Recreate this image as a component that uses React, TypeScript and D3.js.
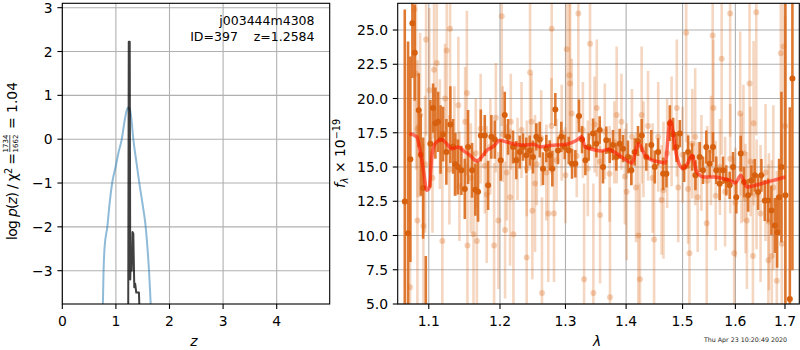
import * as d3 from 'd3';

// p(z) panel
const pzZ = [0.755, 0.77, 0.79, 0.84, 0.88, 0.93, 1.0, 1.05, 1.11, 1.16, 1.2, 1.23, 1.26, 1.29, 1.325, 1.38, 1.437, 1.5, 1.556, 1.59, 1.618, 1.635, 1.655];
const pzLog = [-3.9, -3.0, -2.45, -2.0, -1.5, -1.0, -0.6, -0.3, 0.0, 0.4, 0.65, 0.72, 0.68, 0.45, 0.0, -0.5, -1.0, -1.5, -2.0, -2.5, -3.0, -3.4, -3.9];
const fitZ = [1.23, 1.24, 1.258, 1.268, 1.28, 1.295, 1.31, 1.325, 1.343, 1.36, 1.38, 1.43, 1.44];
const fitLog = [-3.9, 2.22, 2.22, -3.2, -2.55, -3.0, -2.12, -2.15, -3.38, -3.3, -3.5, -3.5, -3.9];
const zTicks = [0, 1, 2, 3, 4];
const pTicks = [-3, -2, -1, 0, 1, 2, 3];

// spectrum panel
const darkWave = [1.0682, 1.0725, 1.0755, 1.0782, 1.0813, 1.0866, 1.0893, 1.0924, 1.096, 1.1021, 1.1058, 1.1089, 1.1126, 1.116, 1.1194, 1.1239, 1.1294, 1.1332, 1.1363, 1.14, 1.1447, 1.1495, 1.1541, 1.1598, 1.1644, 1.1683, 1.1722, 1.1779, 1.1827, 1.1874, 1.1924,
  1.2011, 1.207, 1.2119, 1.2193, 1.2242, 1.2293, 1.2343, 1.2392, 1.2444, 1.2494, 1.2545, 1.2597, 1.2648, 1.2699, 1.2752, 1.2793, 1.284, 1.2882, 1.2934, 1.2988, 1.3052, 1.3105, 1.3158, 1.3217, 1.3266, 1.332, 1.3375, 1.3446, 1.35,
  1.3555, 1.361, 1.3665, 1.3722, 1.3777, 1.3833, 1.389, 1.3947, 1.4032, 1.4089, 1.4148, 1.4205, 1.427, 1.435, 1.4438, 1.4499, 1.4558, 1.4648, 1.4707, 1.4769, 1.4828, 1.4888, 1.495, 1.5029, 1.5102, 1.5176, 1.5238,
  1.5317, 1.5379, 1.5441, 1.5505, 1.5568, 1.5631, 1.5696, 1.576, 1.5823, 1.5889, 1.5954, 1.6018, 1.6105, 1.617, 1.6251, 1.6316, 1.6384, 1.645, 1.6517, 1.6585, 1.6653, 1.672, 1.679, 1.6837, 1.6878, 1.6926, 1.7009, 1.7101, 1.7155];
const darkFlux = [12.49, 10.17, 15.56, 25.5, 23.34, 19.15, 15.9, 13.46, 4.6, 16.7, 19.3, 18.2, 18.3, 17.0, 17.4, 16.1, 18.1, 16.5, 15.2, 15.0, 14.76, 13.4, 16.46, 14.76, 13.34, 13.2, 17.3, 17.3, 13.66, 17.2, 17.0,
  15.5, 18.8, 17.2, 16.46, 15.5, 16.1, 16.46, 15.85, 16.2, 15.73, 17.2, 17.0, 14.88, 16.34, 15.85, 14.88, 19.2, 16.2, 17.2, 16.46, 16.2, 15.24, 15.24, 18.73, 17.0, 15.5, 16.46, 17.44, 16.7,
  17.7, 15.0, 16.95, 16.2, 16.6, 15.73, 16.7, 16.34, 15.73, 14.76, 16.1, 16.9, 17.3, 15.73, 16.6, 15.0, 16.1, 14.5, 14.5, 18.2, 17.4, 16.46, 17.44, 15.0, 16.1, 15.73, 14.4,
  15.73, 14.76, 16.46, 15.24, 16.46, 14.76, 13.78, 14.76, 14.02, 13.66, 15.0, 12.8, 15.98, 13.9, 12.93, 14.02, 14.39, 13.17, 14.39, 12.56, 12.56, 11.83, 10.73, 10.24, 12.8, 15.0, 12.93, 5.37, 21.46];
const darkErr = [14, 14, 7.5, 4, 3.5, 2.7, 3.0, 3.7, 3.9, 3.2, 1.8, 2.6, 2.2, 2.5, 2.0, 2.4, 2.8, 2.0, 2.3, 2.0, 1.8, 2.2, 2.7, 2.0, 1.9, 2.2, 1.9, 1.5, 1.8, 1.6, 1.4,
  1.5, 1.7, 1.3, 1.2, 1.4, 1.2, 1.0, 1.3, 1.1, 1.2, 1.0, 1.3, 1.2, 1.0, 1.1, 1.3, 1.2, 1.0, 1.1, 0.9, 1.0, 1.1, 1.0, 1.2, 1.0, 1.1, 1.0, 1.1, 1.0,
  1.0, 1.2, 1.0, 0.9, 1.1, 1.0, 1.1, 1.0, 1.2, 1.1, 1.0, 1.1, 1.2, 1.0, 1.1, 1.2, 1.0, 1.2, 1.0, 1.3, 1.2, 1.1, 1.0, 1.1, 1.2, 1.0, 1.1,
  1.1, 1.0, 1.2, 1.0, 1.1, 1.0, 1.2, 1.0, 1.1, 1.0, 1.1, 1.2, 1.3, 1.1, 1.2, 1.1, 1.2, 1.3, 1.2, 1.5, 1.6, 1.8, 2.0, 2.6, 2.8, 5.5, 14, 14, 14];

const lightWave = [1.0751, 1.0808, 1.0831, 1.0848, 1.085, 1.0884, 1.0928, 1.095, 1.0964, 1.1008, 1.105, 1.1071, 1.1108, 1.115, 1.1184, 1.122, 1.1244, 1.128, 1.129, 1.135, 1.1405, 1.142, 1.15, 1.1524, 1.1532, 1.158, 1.1618, 1.165, 1.1666, 1.172, 1.178, 1.1807, 1.186, 1.1914, 1.194, 1.1977,
  1.2026, 1.204, 1.2075, 1.21, 1.2149, 1.216, 1.2199, 1.226, 1.232, 1.2398, 1.24, 1.2449, 1.247, 1.2484, 1.2525, 1.255, 1.262, 1.2632, 1.27, 1.273, 1.278, 1.2783, 1.2819, 1.286, 1.294, 1.3, 1.302, 1.3062, 1.3073, 1.31, 1.318, 1.3206, 1.328, 1.3299, 1.336, 1.3396,
  1.3451, 1.347, 1.3507, 1.356, 1.3561, 1.364, 1.372, 1.3727, 1.38, 1.384, 1.392, 1.398, 1.4009, 1.41, 1.417, 1.421, 1.4239, 1.4268, 1.43, 1.438, 1.446, 1.4487, 1.456, 1.462, 1.4654, 1.472, 1.48, 1.4895, 1.492,
  1.5, 1.5066, 1.51, 1.5127, 1.518, 1.5233, 1.528, 1.535, 1.5449, 1.546, 1.553, 1.5562, 1.5575, 1.562, 1.57, 1.5734, 1.58, 1.5898, 1.59, 1.5976, 1.6, 1.6094, 1.612, 1.6159, 1.62, 1.6227, 1.628, 1.63, 1.6347, 1.636, 1.6414, 1.642, 1.65, 1.66, 1.6659, 1.667, 1.6728, 1.676, 1.6831, 1.6913, 1.6934, 1.6967, 1.7003];
const lightFlux = [6.22, 26.5, 21.8, 11.1, 17.8, 18.8, 10.7, 15.2, 24.3, 20.6, 14.2, 22.1, 22.6, 17.4, 9.6, 20.0, 23.5, 14.8, 25.1, 16.9, 19.5, 13.6, 18.3, 20.4, 9.27, 14.2, 10.1, 16.0, 9.6, 17.8, 15.1, 13.0, 16.5, 9.27, 18.6, 11.1,
  26.0, 17.4, 10.4, 14.6, 12.8, 18.3, 10.1, 15.6, 17.7, 8.4, 14.9, 21.9, 18.3, 11.8, 13.8, 15.2, 17.1, 5.8, 14.6, 11.6, 18.0, 25.1, 11.6, 15.5, 17.5, 14.4, 23.6, 21.7, 21.1, 18.9, 15.8, 26.2, 17.7, 6.8, 14.9, 24.0,
  5.8, 18.1, 19.3, 15.4, 11.5, 17.6, 14.5, 5.5, 16.8, 18.8, 18.3, 14.3, 13.2, 17.2, 13.5, 10.0, 6.8, 18.8, 16.3, 18.0, 14.2, 9.7, 17.2, 12.6, 13.3, 16.0, 17.6, 19.3, 13.5,
  15.9, 24.8, 13.4, 8.7, 16.7, 17.2, 12.8, 15.3, 10.9, 14.0, 16.2, 24.6, 19.3, 12.9, 15.0, 22.9, 13.2, 26.2, 15.6, 8.7, 12.4, 18.9, 14.9, 16.0, 12.7, 11.1, 21.1, 15.4, 8.5, 18.2, 26.3, 13.0, 11.6, 14.6, 8.2, 11.0, 8.5, 13.5, 6.7, 23.3, 9.4, 23.8, 18.0];
const lightErr = [9, 9, 7, 7, 5, 6, 6, 5, 7, 6, 4, 5, 5, 4, 6, 4, 6, 4, 7, 4, 5, 4, 4, 6, 6, 4, 6, 4, 6, 4, 3.5, 5, 3.5, 6, 4, 5,
  8, 3.5, 5, 3.5, 5, 3.5, 6, 3, 3.5, 6, 3.5, 6, 3.5, 5, 5, 3, 3.5, 7, 3.5, 5, 3.5, 7, 5, 3, 3.5, 3.5, 7, 6, 6, 4, 3, 8, 3.5, 7, 3.5, 7,
  8, 3.5, 5, 3, 5, 3.5, 3.5, 8, 3, 5, 3.5, 3.5, 5, 3.5, 4, 6, 7, 5, 3.5, 4, 4, 6, 4, 4, 5, 4, 4, 5, 4,
  3.5, 8, 4, 7, 4, 5, 4, 3.5, 6, 4, 4, 8, 5, 4, 3.5, 7, 4, 9, 4, 7, 4, 6, 4, 5, 4, 5, 7, 4, 7, 6, 9, 4, 5, 5, 7, 5, 7, 6, 8, 9, 8, 9, 8];

const modelWave = [1.0743, 1.0839, 1.0884, 1.0928, 1.0973, 1.1008, 1.104, 1.1085, 1.1176, 1.1244, 1.1313, 1.1406, 1.1475, 1.1569, 1.1664, 1.1735, 1.1807, 1.1904, 1.2001, 1.2099, 1.2223, 1.2348, 1.25, 1.2602, 1.2705, 1.2862, 1.302, 1.318, 1.3261, 1.3315,
  1.3451, 1.3589, 1.37, 1.384, 1.3982, 1.4097, 1.4213, 1.4329, 1.4447, 1.4595, 1.4684, 1.4775, 1.4896, 1.5005, 1.5091, 1.5171, 1.5264, 1.5389, 1.5578, 1.5769, 1.5898, 1.5996, 1.6107, 1.6225, 1.6393, 1.6561, 1.6765, 1.7006];
const modelFlux = [17.44, 17.2, 16.2, 14.76, 13.3, 13.5, 15.7, 16.7, 17.0, 16.7, 16.34, 16.46, 16.2, 15.85, 15.44, 15.73, 16.2, 16.5, 16.95, 16.83, 16.66, 16.6, 16.66, 16.46, 16.54, 16.6, 16.66, 16.95, 17.2, 16.46,
  16.27, 16.17, 16.3, 15.98, 15.54, 15.3, 16.7, 15.85, 15.5, 15.37, 15.3, 18.4, 15.73, 14.88, 15.24, 15.85, 14.63, 14.27, 14.27, 14.15, 14.02, 13.83, 14.39, 13.54, 13.66, 13.83, 14.02, 14.27];
const waveTicks = [1.1, 1.2, 1.3, 1.4, 1.5, 1.6, 1.7];
const fluxTicks = [5, 7.5, 10, 12.5, 15, 17.5, 20, 22.5, 25];

const FONT = 'DejaVu Sans';
const fmtMinus = (v: number, s: string) => (v < 0 ? '\u2212' + s.replace('-', '') : s);

export default function App() {
  const L = { x0: 62.3, x1: 329.7, y0: 3.3, y1: 304 };
  const R = { x0: 397.7, x1: 799.3, y0: 3.3, y1: 304 };

  const xz = d3.scaleLinear().domain([0, 4.989]).range([L.x0, L.x1]);
  const yp = d3.scaleLinear().domain([-3.76, 3.1]).range([L.y1, L.y0]);
  const xw = d3.scaleLog().domain([1.059, 1.73]).range([R.x0, R.x1]);
  const yf = d3.scaleLinear().domain([5, 26.95]).range([R.y1, R.y0]);

  const pzLine = d3.line<number>().x((_, i) => xz(pzZ[i])).y(d => yp(d)).curve(d3.curveMonotoneX);
  const fitLine = d3.line<number>().x((_, i) => xz(fitZ[i])).y(d => yp(d));
  const modelLine = d3.line<number>().x((_, i) => xw(modelWave[i])).y(d => yf(d)).curve(d3.curveMonotoneX);

  const grid = '#b0b0b0';
  const dark = '#dc6a1c';

  return (
    <div style={{ position: 'absolute', left: 0, top: 0 }}>
      <svg width={800} height={350} style={{ display: 'block', fontFamily: FONT }}>
        <defs>
          <clipPath id="clipL"><rect x={L.x0} y={L.y0} width={L.x1 - L.x0} height={L.y1 - L.y0} /></clipPath>
          <clipPath id="clipR"><rect x={R.x0} y={R.y0} width={R.x1 - R.x0} height={R.y1 - R.y0} /></clipPath>
        </defs>
        <rect width={800} height={350} fill="#fff" />

        {/* Left panel: p(z) */}
        <g>
          {zTicks.map(t => (
            <line key={'gz' + t} x1={xz(t)} x2={xz(t)} y1={L.y0} y2={L.y1} stroke={grid} strokeWidth={1.1} />
          ))}
          {pTicks.map(t => (
            <line key={'gp' + t} x1={L.x0} x2={L.x1} y1={yp(t)} y2={yp(t)} stroke={grid} strokeWidth={1.1} />
          ))}
          <g clipPath="url(#clipL)">
            <path d={pzLine(pzLog) || ''} fill="none" stroke="#1f77b4" strokeOpacity={0.5} strokeWidth={2} />
            <path d={fitLine(fitLog) || ''} fill="none" stroke="#000" strokeOpacity={0.75} strokeWidth={2} strokeLinejoin="round" />
          </g>
          <rect x={L.x0} y={L.y0} width={L.x1 - L.x0} height={L.y1 - L.y0} fill="none" stroke="#000" strokeWidth={1.1} />
          {zTicks.map(t => (
            <g key={'tz' + t}>
              <line x1={xz(t)} x2={xz(t)} y1={L.y1} y2={L.y1 + 4.9} stroke="#000" strokeWidth={1.1} />
              <text x={xz(t)} y={326} textAnchor="middle" fontSize={13.9}>{t}</text>
            </g>
          ))}
          {pTicks.map(t => (
            <g key={'tp' + t}>
              <line x1={L.x0 - 4.9} x2={L.x0} y1={yp(t)} y2={yp(t)} stroke="#000" strokeWidth={1.1} />
              <text x={52.5} y={yp(t) + 5} textAnchor="end" fontSize={13.9}>{fmtMinus(t, String(t))}</text>
            </g>
          ))}
          <text x={194} y={346} textAnchor="middle" fontSize={13.9} fontStyle="italic">z</text>
          <text x={314.5} y={25} textAnchor="end" fontSize={12.5}>j003444m4308</text>
          <text x={314.5} y={40.5} textAnchor="end" fontSize={12.5} style={{ whiteSpace: 'pre' }}>{'ID=397    z=1.2584'}</text>
          <g transform="translate(17,154) rotate(-90)" fontSize={13.9}>
            <text x={-86} y={0} textLength={87} lengthAdjust="spacing">
              log <tspan fontStyle="italic">p</tspan>(<tspan fontStyle="italic">z</tspan>) / χ<tspan fontSize={9.7} dy={-5}>2</tspan><tspan dy={5}> =</tspan>
            </text>
            <text x={10.5} y={-9} textAnchor="middle" fontSize={7}>1734</text>
            <line x1={2} x2={19} y1={-7.2} y2={-7.2} stroke="#000" strokeWidth={0.7} />
            <text x={10.5} y={0.8} textAnchor="middle" fontSize={7}>1662</text>
            <text x={25} y={0}>= 1.04</text>
          </g>
        </g>

        {/* Right panel: spectrum */}
        <g>
          {waveTicks.map(t => (
            <line key={'gw' + t} x1={xw(t)} x2={xw(t)} y1={R.y0} y2={R.y1} stroke={grid} strokeWidth={1.1} />
          ))}
          {fluxTicks.map(t => (
            <line key={'gf' + t} x1={R.x0} x2={R.x1} y1={yf(t)} y2={yf(t)} stroke={grid} strokeWidth={1.1} />
          ))}
          <g clipPath="url(#clipR)">
            {lightWave.map((w, i) => (
              <line key={'le' + i} x1={xw(w)} x2={xw(w)} y1={yf(lightFlux[i] - lightErr[i])} y2={yf(lightFlux[i] + lightErr[i])}
                stroke={dark} strokeOpacity={0.28} strokeWidth={2.6} />
            ))}
            {lightWave.map((w, i) => (
              <circle key={'lp' + i} cx={xw(w)} cy={yf(lightFlux[i])} r={3} fill={dark} fillOpacity={0.3} />
            ))}
            {darkWave.map((w, i) => (
              <line key={'de' + i} x1={xw(w)} x2={xw(w)} y1={yf(darkFlux[i] - darkErr[i])} y2={yf(darkFlux[i] + darkErr[i])}
                stroke={dark} strokeOpacity={0.9} strokeWidth={2.6} />
            ))}
            {darkWave.map((w, i) => (
              <circle key={'dp' + i} cx={xw(w)} cy={yf(darkFlux[i])} r={3} fill="#d6600e" />
            ))}
            <path d={modelLine(modelFlux) || ''} fill="none" stroke="#ff1500" strokeOpacity={0.6} strokeWidth={3.5} strokeLinejoin="round" />
          </g>
          <rect x={R.x0} y={R.y0} width={R.x1 - R.x0} height={R.y1 - R.y0} fill="none" stroke="#000" strokeWidth={1.1} />
          {waveTicks.map(t => (
            <g key={'tw' + t}>
              <line x1={xw(t)} x2={xw(t)} y1={R.y1} y2={R.y1 + 4.9} stroke="#000" strokeWidth={1.1} />
              <text x={xw(t)} y={326} textAnchor="middle" fontSize={13.9}>{t.toFixed(1)}</text>
            </g>
          ))}
          {fluxTicks.map(t => (
            <g key={'tf' + t}>
              <line x1={R.x0 - 4.9} x2={R.x0} y1={yf(t)} y2={yf(t)} stroke="#000" strokeWidth={1.1} />
              <text x={388} y={yf(t) + 5} textAnchor="end" fontSize={13.9}>{t.toFixed(1)}</text>
            </g>
          ))}
          <text x={597} y={346} textAnchor="middle" fontSize={13.9} fontStyle="italic">λ</text>
          <g transform="translate(345,153.5) rotate(-90)" fontSize={13.9}>
            <text x={0} y={0} textAnchor="middle">
              <tspan fontStyle="italic">f</tspan><tspan fontSize={9.7} fontStyle="italic" dy={3}>λ</tspan><tspan dy={-3}> × 10</tspan><tspan fontSize={9.7} dy={-5.5}>{'\u221219'}</tspan>
            </text>
          </g>
          <text x={787} y={342} textAnchor="end" fontSize={6.3} fill="#222">Thu Apr 23 10:20:49 2020</text>
        </g>
      </svg>
    </div>
  );
}
